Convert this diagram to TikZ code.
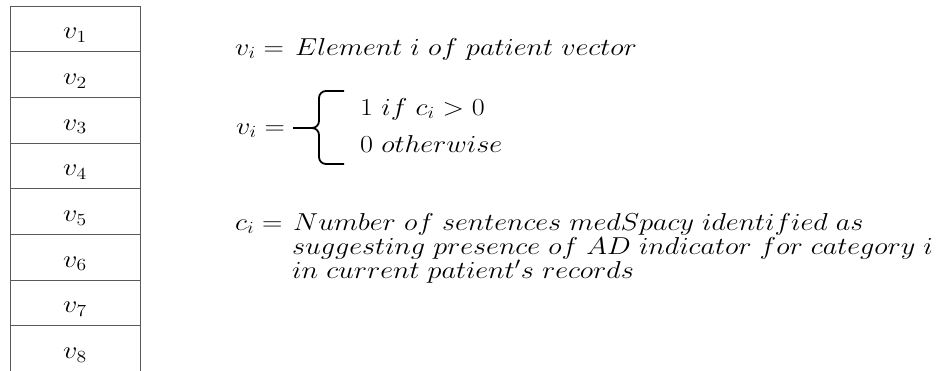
\documentclass[tikz,border=0pt]{standalone}
\usepackage{amsmath}
\usepackage{graphicx}
\usetikzlibrary{positioning}

\newcommand{\widemath}[1]{\scalebox{1.36}[1.18]{$#1$}}

\begin{document}
\begin{tikzpicture}[
x=1pt, y=-1pt,
node distance=0pt,
cell/.style={draw=black!65, line width=0.9pt, outer sep=0pt, inner sep=0pt, minimum width=130pt, minimum height=45.67pt, text height=20pt, text depth=0pt, font=\fontsize{20}{24}\selectfont},
txt/.style={anchor=base west, inner sep=0pt, font=\fontsize{20}{24}\selectfont},
brace/.style={line width=1.8pt, rounded corners=7pt}
]
\clip (0,0) rectangle (949,370);

% --- Patient vector ---
\node[cell, anchor=north west] (v1) at (10,6) {\widemath{v_1}};
\node[cell, below=of v1] (v2) {\widemath{v_2}};
\node[cell, below=of v2] (v3) {\widemath{v_3}};
\node[cell, below=of v3] (v4) {\widemath{v_4}};
\node[cell, below=of v4] (v5) {\widemath{v_5}};
\node[cell, below=of v5] (v6) {\widemath{v_6}};
\node[cell, below=of v6] (v7) {\widemath{v_7}};
\node[cell, below=of v7] (v8) {\widemath{v_8}};

% --- Element definition ---
\node[txt] (vname) at (235,55) {\widemath{v_i =}};
\node[txt] (vdef) at (295,55) {\widemath{Element\ i\ of\ patient\ vector}};

% --- Indicator rule ---
\node[txt] (vrule) at (236,134) {\widemath{v_i =}};
\coordinate (tip) at (293,128);
\coordinate (upper) at (344,91);
\coordinate (lower) at (344,164);
\node[txt] (caseone) at (360,115) {\widemath{1\ if\ c_i > 0}};
\node[txt] (casezero) at (360,152) {\widemath{0\ otherwise}};
\draw[brace] (upper) -- (319,91) -- (319,128) -- (tip);
\draw[brace] (tip) -- (319,128) -- (319,164) -- (lower);

% --- Count definition ---
\node[txt] (cname) at (235,230) {\widemath{c_i =}};
\node[txt] (cdef) at (293,230) {\widemath{Number\ of\ sentences\ medSpacy\ identified\ as}};
\node[txt] (cdefb) at (292,254) {\widemath{suggesting\ presence\ of\ AD\ indicator\ for\ category\ i}};
\node[txt] (cdefc) at (292,278) {\widemath{in\ current\ patient's\ records}};

\end{tikzpicture}
\end{document}
